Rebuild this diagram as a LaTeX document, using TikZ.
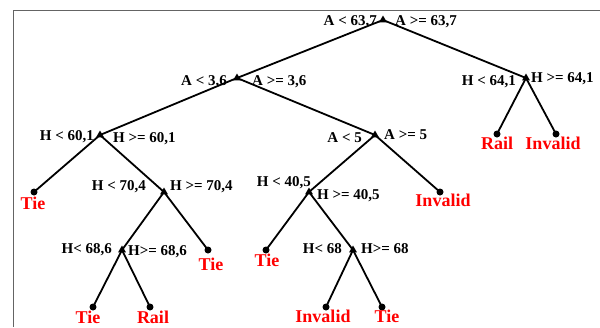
\documentclass[tikz,border=0pt]{standalone}
\usepackage{fontspec}
\setmainfont{Liberation Serif}
\usepackage{xcolor}
\usepackage{tikz}
\usetikzlibrary{shapes.geometric,positioning}
\definecolor{framegray}{RGB}{100,100,100}
\tikzset{
  split/.style={regular polygon, regular polygon sides=3, fill=black, draw=none,
                inner sep=0pt, minimum size=9pt},
  leaf/.style={circle, fill=black, inner sep=0pt, minimum size=7pt},
  cond/.style={font=\fontsize{15}{15}\selectfont\bfseries, inner sep=0pt},
  outcome/.style={font=\fontsize{18}{18}\selectfont\bfseries, text=red, inner sep=0pt},
  branch/.style={line width=1.8pt}
}

\begin{document}
\begin{tikzpicture}[x=1pt,y=-1pt]
\useasboundingbox (0,0) rectangle (600,327);
\draw[framegray, line width=1pt] (13,327) -- (13,10) -- (600,10);

% tests
\node[split] (a637) at (383,20) {};
\node[split] (a36) at (237,78) {};
\node[split] (h641) at (526,78) {};
\node[split] (h601) at (100,135) {};
\node[split] (a5) at (375,135) {};
\node[split] (h704) at (164,192) {};
\node[split] (h405) at (309,192) {};
\node[split] (h686) at (122,250) {};
\node[split] (h68) at (353,250) {};

% leaves
\node[leaf] (rail1) at (497,134) {};
\node[leaf] (inv1) at (556,134) {};
\node[leaf] (tie1) at (34,192) {};
\node[leaf] (inv2) at (440,192) {};
\node[leaf] (tie2) at (208,250) {};
\node[leaf] (tie3) at (266,250) {};
\node[leaf] (tie4) at (93,307) {};
\node[leaf] (rail2) at (150,307) {};
\node[leaf] (inv3) at (326,307) {};
\node[leaf] (tie5) at (382,307) {};

% branches
\draw[branch] (a637.center) -- (a36.center) (a637.center) -- (h641.center);
\draw[branch] (a36.center) -- (h601.center) (a36.center) -- (a5.center);
\draw[branch] (h641.center) -- (rail1.center) (h641.center) -- (inv1.center);
\draw[branch] (h601.center) -- (tie1.center) (h601.center) -- (h704.center);
\draw[branch] (a5.center) -- (h405.center) (a5.center) -- (inv2.center);
\draw[branch] (h704.center) -- (h686.center) (h704.center) -- (tie2.center);
\draw[branch] (h405.center) -- (tie3.center) (h405.center) -- (h68.center);
\draw[branch] (h686.center) -- (tie4.center) (h686.center) -- (rail2.center);
\draw[branch] (h68.center) -- (inv3.center) (h68.center) -- (tie5.center);

% conditions
\node[cond, anchor=base east] (a637l) at (377,25) {A < 63,7};
\node[cond, anchor=base west] (a637r) at (395,25) {A >= 63,7};
\node[cond, anchor=base east] (a36l) at (227,85) {A < 3,6};
\node[cond, anchor=base west] (a36r) at (252,85) {A >= 3,6};
\node[cond, anchor=base east] (h641l) at (516,85) {H < 64,1};
\node[cond, anchor=base west] (h641r) at (531,82) {H >= 64,1};
\node[cond, anchor=base east] (a5l) at (362,142) {A < 5};
\node[cond, anchor=base west] (a5r) at (384,139) {A >= 5};
\node[cond, anchor=base east] (h601l) at (94,140) {H < 60,1};
\node[cond, anchor=base west] (h601r) at (113,142) {H >= 60,1};
\node[cond, anchor=base east] (h704l) at (146,190) {H < 70,4};
\node[cond, anchor=base west] (h704r) at (170,190) {H >= 70,4};
\node[cond, anchor=base east] (h405l) at (311,186) {H < 40,5};
\node[cond, anchor=base west] (h405r) at (317,199) {H >= 40,5};
\node[cond, anchor=base east] (h686l) at (112,253) {H< 68,6};
\node[cond, anchor=base west] (h686r) at (128,255) {H>= 68,6};
\node[cond, anchor=base east] (h68l) at (342,253) {H< 68};
\node[cond, anchor=base west] (h68r) at (361,253) {H>= 68};

% outcomes
\node[outcome] (rail1t) at (497,143) {Rail};
\node[outcome] (inv1t) at (553,143) {Invalid};
\node[outcome] (tie1t) at (33,203) {Tie};
\node[outcome] (inv2t) at (443,200) {Invalid};
\node[outcome] (tie2t) at (211,264) {Tie};
\node[outcome] (tie3t) at (267,260) {Tie};
\node[outcome] (tie4t) at (88,317) {Tie};
\node[outcome] (rail2t) at (153,317) {Rail};
\node[outcome] (inv3t) at (323,316) {Invalid};
\node[outcome] (tie5t) at (387,316) {Tie};
\end{tikzpicture}
\end{document}
